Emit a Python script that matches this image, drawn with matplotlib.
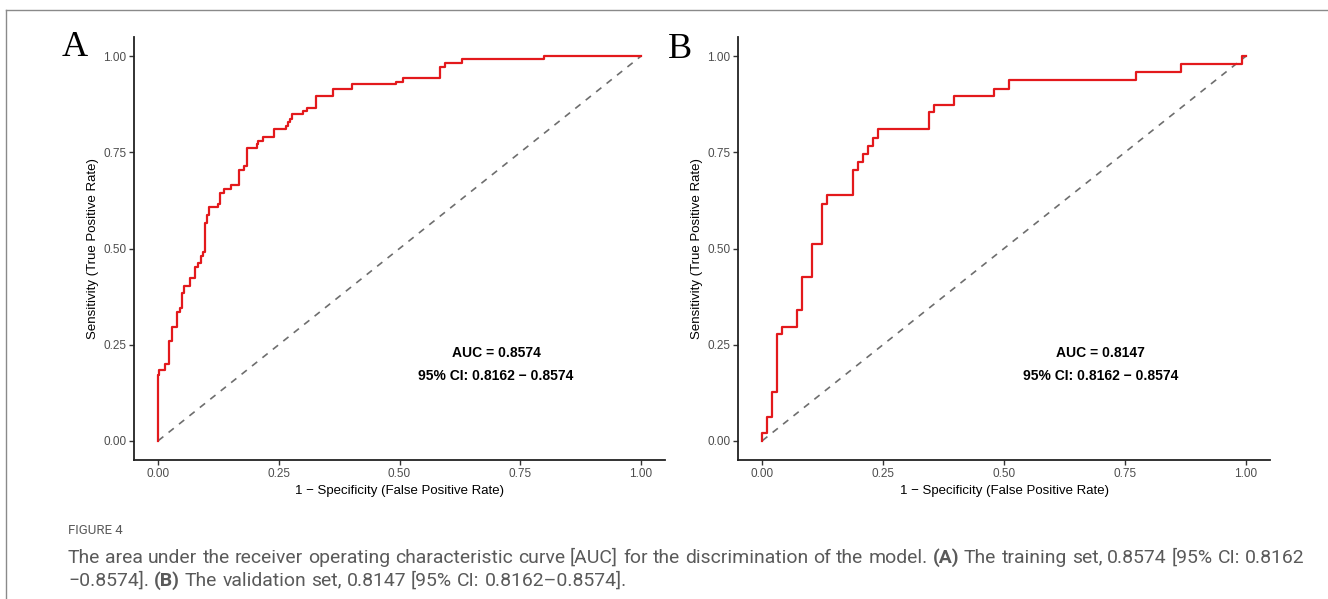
import matplotlib
matplotlib.use("Agg")
import matplotlib.pyplot as plt
from matplotlib.lines import Line2D

# ROC staircase: fpr where the curve rises, tpr reached after the rise
train_fpr = [0.0, 0.0, 0.002, 0.0145, 0.023, 0.028, 0.040, 0.045, 0.0496, 0.054,
             0.067, 0.076, 0.083, 0.089, 0.093, 0.098, 0.101, 0.106, 0.125, 0.128,
             0.137, 0.151, 0.168, 0.178, 0.185, 0.204, 0.207, 0.218, 0.239, 0.264,
             0.268, 0.273, 0.278, 0.300, 0.308, 0.326, 0.362, 0.402, 0.493, 0.507,
             0.583, 0.594, 0.629, 0.800, 1.0]
train_tpr = [0.0, 0.171, 0.183, 0.200, 0.260, 0.297, 0.336, 0.345, 0.384, 0.403,
             0.423, 0.451, 0.461, 0.480, 0.491, 0.567, 0.587, 0.607, 0.617, 0.645,
             0.655, 0.664, 0.704, 0.714, 0.762, 0.771, 0.780, 0.790, 0.810, 0.819,
             0.829, 0.838, 0.849, 0.858, 0.866, 0.896, 0.916, 0.927, 0.933, 0.944,
             0.972, 0.982, 0.992, 1.0, 1.0]

valid_fpr = [0.0, 0.0, 0.010, 0.020, 0.031, 0.041, 0.073, 0.083, 0.104, 0.124,
             0.135, 0.188, 0.199, 0.209, 0.219, 0.230, 0.240, 0.344, 0.355, 0.396,
             0.480, 0.511, 0.772, 0.866, 0.992, 1.0]
valid_tpr = [0.0, 0.020, 0.062, 0.128, 0.277, 0.297, 0.340, 0.427, 0.512, 0.617,
             0.639, 0.704, 0.724, 0.745, 0.767, 0.788, 0.810, 0.854, 0.873, 0.896,
             0.916, 0.938, 0.959, 0.981, 1.0, 1.0]

panel_letters = ["A", "B"]
auc_text = ["AUC = 0.8574", "AUC = 0.8147"]
ci_text = ["95% CI: 0.8162 \u2212 0.8574", "95% CI: 0.8162 \u2212 0.8574"]
ticks = [0.0, 0.25, 0.5, 0.75, 1.0]
tick_labels = ["0.00", "0.25", "0.50", "0.75", "1.00"]

SANS = "Liberation Sans"
W, H = 1328, 599

fig = plt.figure(figsize=(W / 100, H / 100), dpi=100)
fig.patch.set_facecolor("white")


def px_rect(x0, x1, ytop, ybot):
    return [x0 / W, 1 - ybot / H, (x1 - x0) / W, (ybot - ytop) / H]


axes = [fig.add_axes(px_rect(134, 665, 37, 460)),
        fig.add_axes(px_rect(738, 1270, 37, 460))]
curves = [(train_fpr, train_tpr), (valid_fpr, valid_tpr)]

for i, ax in enumerate(axes):
    fpr, tpr = curves[i]
    ax.plot([0, 1], [0, 1], color="#6e6e6e", lw=1.2, ls=(0, (4, 4)))
    ax.step(fpr, tpr, where="post", color="#e3191c", lw=1.6)
    ax.set_xlim(-0.05, 1.05)
    ax.set_ylim(-0.05, 1.05)
    ax.set_xticks(ticks)
    ax.set_xticklabels(tick_labels)
    ax.set_yticks(ticks)
    ax.set_yticklabels(tick_labels)
    for s in ("top", "right"):
        ax.spines[s].set_visible(False)
    for s in ("left", "bottom"):
        ax.spines[s].set_linewidth(1.3)
        ax.spines[s].set_color("#222222")
    ax.tick_params(length=3.5, width=1.0, color="#333333", labelsize=8.5,
                   labelcolor="#4d4d4d", pad=2)
    for lab in ax.get_xticklabels() + ax.get_yticklabels():
        lab.set_fontfamily(SANS)
    ax.set_xlabel("1 \u2212 Specificity (False Positive Rate)", fontsize=9.5,
                  fontfamily=SANS, labelpad=4)
    ax.set_ylabel("Sensitivity (True Positive Rate)", fontsize=9.5,
                  fontfamily=SANS, labelpad=3)
    ax.text(0.70, 0.229, auc_text[i], ha="center", va="center", fontsize=10,
            fontweight="bold", fontfamily=SANS)
    ax.text(0.70, 0.169, ci_text[i], ha="center", va="center", fontsize=10,
            fontweight="bold", fontfamily=SANS)

fig.text(75 / W, 1 - 47 / H, panel_letters[0], fontsize=26, fontfamily="Liberation Serif",
         ha="center", va="center")
fig.text(680 / W, 1 - 49 / H, panel_letters[1], fontsize=26, fontfamily="Liberation Serif",
         ha="center", va="center")

# page frame
fig.add_artist(Line2D([6 / W, 1], [1 - 10 / H, 1 - 10 / H], color="#8a8a8a", lw=1.0))
fig.add_artist(Line2D([6 / W, 6 / W], [0, 1 - 10 / H], color="#8a8a8a", lw=1.0))

# caption
CAP = "Roboto"
cap_color = "#5a5a5a"
fig.text(68 / W, 1 - 531 / H, "FIGURE 4", fontsize=9.5, fontfamily=CAP,
         color=cap_color, va="center")

line1 = [("The", "normal"), ("area", "normal"), ("under", "normal"), ("the", "normal"),
         ("receiver", "normal"), ("operating", "normal"), ("characteristic", "normal"),
         ("curve", "normal"), ("[AUC]", "normal"), ("for", "normal"), ("the", "normal"),
         ("discrimination", "normal"), ("of", "normal"), ("the", "normal"),
         ("model.", "normal"), ("(A)", "bold"), ("The", "normal"), ("training", "normal"),
         ("set,", "normal"), ("0.8574", "normal"), ("[95%", "normal"), ("CI:", "normal"),
         ("0.8162", "normal")]
line2 = [("\u22120.8574].", "normal"), ("(B)", "bold"), ("The", "normal"),
         ("validation", "normal"), ("set,", "normal"), ("0.8147", "normal"),
         ("[95%", "normal"), ("CI:", "normal"), ("0.8162\u20130.8574].", "normal")]

fig.canvas.draw()
renderer = fig.canvas.get_renderer()

# find caption size so line 1 fills the width with ~5 px word gaps
probe = [fig.text(0, 0, w, fontsize=10, fontfamily=CAP, fontweight=wt) for w, wt in line1]
natural = sum(p.get_window_extent(renderer).width for p in probe)
for p in probe:
    p.remove()
cap_size = 10 * (1237 - 5 * (len(line1) - 1)) / natural


def draw_words(words, x0, x1, ycen, justify, size):
    arts = []
    for w, weight in words:
        t = fig.text(0, 1 - ycen / H, w, fontsize=size, fontfamily=CAP,
                     fontweight=weight, color=cap_color, va="center")
        arts.append(t)
    widths = [a.get_window_extent(renderer).width for a in arts]
    if justify:
        gap = (x1 - x0 - sum(widths)) / (len(arts) - 1)
    else:
        gap = 5
    x = x0
    for a, wd in zip(arts, widths):
        a.set_x(x / W)
        x += wd + gap


draw_words(line1, 68, 1305, 558, True, cap_size)
draw_words(line2, 68, 1305, 581, False, cap_size)

fig.savefig("out.png", dpi=100, facecolor="white")
